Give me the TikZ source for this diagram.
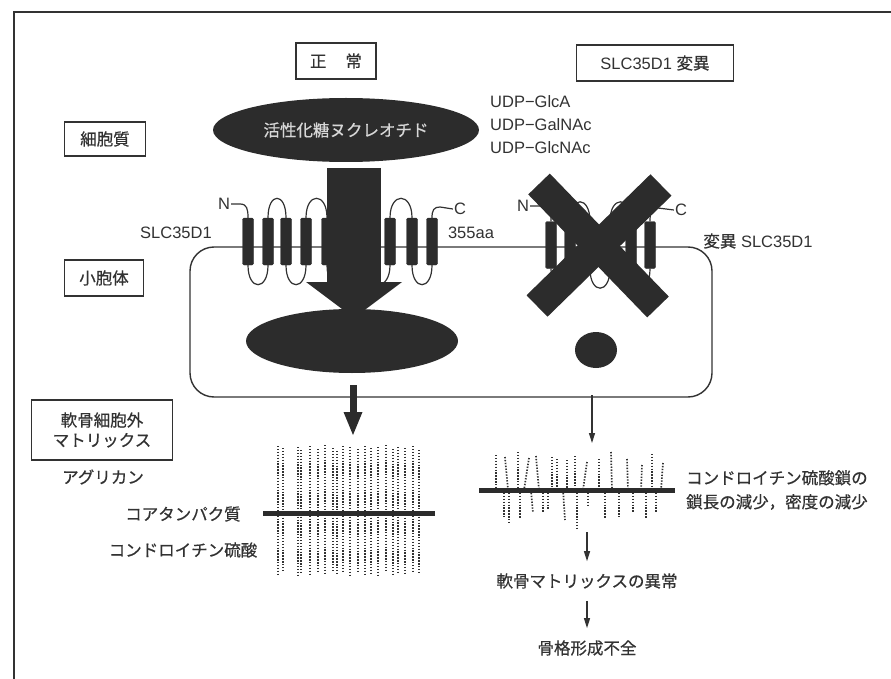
\documentclass[tikz,border=0pt]{standalone}
\usepackage{fontspec}
\setmainfont{Liberation Sans}
\newfontfamily\jp{Noto Sans CJK JP}[FakeBold=0.6]
\usepackage{tikz}
\usetikzlibrary{positioning,arrows.meta,shapes.geometric}

\definecolor{ink}{RGB}{50,50,50}
\definecolor{mass}{RGB}{44,44,44}
\definecolor{pale}{RGB}{215,215,215}

\begin{document}
\begin{tikzpicture}[x=1pt, y=-1pt, node distance={6pt},
    every node/.style = {text=ink, font=\fontsize{16.5}{22}\selectfont},
    tag/.style = {draw=ink, line width=1.1pt, minimum height=36pt, inner xsep=14pt},
    blob/.style = {ellipse, fill=mass, inner sep=0pt},
    helix/.style = {fill=mass, draw=mass, rounded corners=1.5pt, minimum width=11pt, minimum height=47pt, inner sep=0pt},
    loopline/.style = {draw=ink, line width=1.2pt},
    dots/.style = {draw=ink, line width=1.7pt, dash pattern=on 1.4pt off 1.5pt},
    core/.style = {draw=mass, line width=5pt},
    strike/.style = {draw=mass, line width=30pt},
    flow/.style = {draw=ink, line width=1.2pt, -{Triangle[length=10pt,width=6pt]}},
    heavy/.style = {draw=mass, line width=7pt, -{Triangle[length=23pt,width=19pt,line width=0pt]}},
    fat/.style = {draw=mass, line width=54pt, -{Triangle[length=36pt,width=96pt,line width=0pt]}}]

    \useasboundingbox (0,0) rectangle (891,679);
    \draw[line width=1.3pt, draw=ink] (14,679) -- (14,12) -- (891,12);

    \node[tag] (ok) at (336,61) {\jp 正\hspace{19pt}常};
    \node[tag, minimum width=157pt] (mut) at (655,63) {SLC35D1 {\jp 変異}};
    \node[tag, minimum width=81pt, minimum height=34pt] (cyt) at (105,139) {\jp 細胞質};
    \node[tag, minimum width=79pt] (ves) at (104,278) {\jp 小胞体};
    \node[tag, minimum width=141pt, minimum height=60pt, align=center, font=\jp\fontsize{16.5}{20}\selectfont] (ecm) at (102,430) {軟骨細胞外\\マトリックス};

    \node[draw=ink, line width=1.4pt, rounded corners=24pt, minimum width=522pt, minimum height=150pt] (er) at (451,322) {};

    \foreach \x [count=\i] in {248,268,286,306,327,347,367,390,412,432}
        \node[helix] (l\i) at (\x,241.5) {};
    \foreach \a/\b in {2/3,4/5,6/7,8/9}
        \draw[loopline] (l\a.north) .. controls +(0,-26) and +(0,-26) .. (l\b.north);
    \foreach \a/\b in {1/2,3/4,5/6,7/8,9/10}
        \draw[loopline] (l\a.south) .. controls +(0,26) and +(0,26) .. (l\b.south);
    \node[inner sep=1pt] (nl) at (224,204) {N};
    \draw[loopline] (nl.east) -- (240,204) .. controls (247,204) and (248,209) .. (l1.north);
    \node[inner sep=1pt] (cl) at (460,209) {C};
    \draw[loopline] (l10.north) .. controls (432,210) and (434,207) .. (440,207) -- (cl.west);

    \foreach \x [count=\i] in {551,570,590,610,631,650}
        \node[helix] (r\i) at (\x,245) {};
    \foreach \a/\b in {2/3,4/5}
        \draw[loopline] (r\a.north) .. controls +(0,-26) and +(0,-26) .. (r\b.north);
    \foreach \a/\b in {1/2,3/4,5/6}
        \draw[loopline] (r\a.south) .. controls +(0,26) and +(0,26) .. (r\b.south);
    \node[inner sep=1pt] (nr) at (523,206) {N};
    \draw[loopline] (nr.east) -- (543,206) .. controls (550,206) and (551,211) .. (r1.north);
    \node[inner sep=1pt] (cr) at (681,210) {C};
    \draw[loopline] (r6.north) .. controls (650,211) and (652,208) .. (658,208) -- (cr.west);

    \node[blob, minimum width=266pt, minimum height=64pt, text=pale] (nuc) at (346,130) {\jp 活性化糖ヌクレオチド};
    \node[blob, minimum width=212pt, minimum height=64pt] (lum) at (352,341) {};
    \node[blob, minimum width=42pt, minimum height=36pt] (sp) at (596,350) {};

    \coordinate (fa) at (354,168);
    \coordinate (fb) at (354,318);
    \draw[fat] (fa) -- (fb);

    \draw[strike] (539,184) -- (658,307);
    \draw[strike] (661,185) -- (537,306);

    \node (slc) at (176,233) {SLC35D1};
    \node (aa) at (471,233) {355aa};
    \node (vslc) at (758,241) {{\jp 変異} SLC35D1};
    \node[anchor=west, align=left, inner sep=0pt, font=\fontsize{16.5}{23}\selectfont] (udp) at (490,125) {UDP−GlcA\\UDP−GalNAc\\UDP−GlcNAc};

    \coordinate (ta) at (353,385);
    \coordinate (tb) at (353,435);
    \draw[heavy] (ta) -- (tb);

    \foreach \a/\t/\b in {278/446/574,283/448/572,298/447/575,301/450/573,310/446/574,318/449/571,325/445/575,333/448/572,337/451/574,343/446/573,350/447/575,358/449/572,365/446/574,371/448/573,378/447/575,386/445/572,393/449/574,398/447/573,405/448/575,413/446/572,419/450/574}
        \draw[dots] (\a,\t) -- (\a,\b);
    \draw[core] (263,513) -- (435,513);

    \node (agr) at (103,477) {\jp アグリカン};
    \node (cp) at (183,514) {\jp コアタンパク質};
    \node (cs) at (183,550) {\jp コンドロイチン硫酸};

    \coordinate (v1) at (592,395);
    \coordinate (v2) at (592,443);
    \draw[flow] (v1) -- (v2);

    \foreach \a/\t/\b in {496/455/496,505/457/508,518/452/518,529/458/524,536/456/539,552/457/552,557/459/557,567/460/567,575/456/575,587/462/583,599/459/599,611/452/612,627/459/628,642/465/641,652/454/652,663/463/661}
        \draw[dots] (\a,\t) -- (\b,490);
    \foreach \a/\t/\b in {504/517/504,509/523/509,520/518/520,533/513/531,543/513/543,548/510/548,565/520/563,577/528/577,588/505/588,605/518/605,619/517/619,633/513/633,646/518/646,656/513/656}
        \draw[dots] (\b,490) -- (\a,\t);
    \draw[core] (479,490) -- (675,490);

    \node[anchor=west, align=left, inner sep=0pt, font=\jp\fontsize{16.5}{24}\selectfont] (short) at (686,490) {コンドロイチン硫酸鎖の\\鎖長の減少，密度の減少};

    \node[inner ysep=12pt] (ab) at (587,581) {\jp 軟骨マトリックスの異常};
    \node[inner ysep=12pt] (sk) at (587,648) {\jp 骨格形成不全};
    \coordinate (rm) at (587,532);
    \draw[flow] (rm) -- (ab.north);
    \draw[flow] (ab) -- (sk);
\end{tikzpicture}
\end{document}
